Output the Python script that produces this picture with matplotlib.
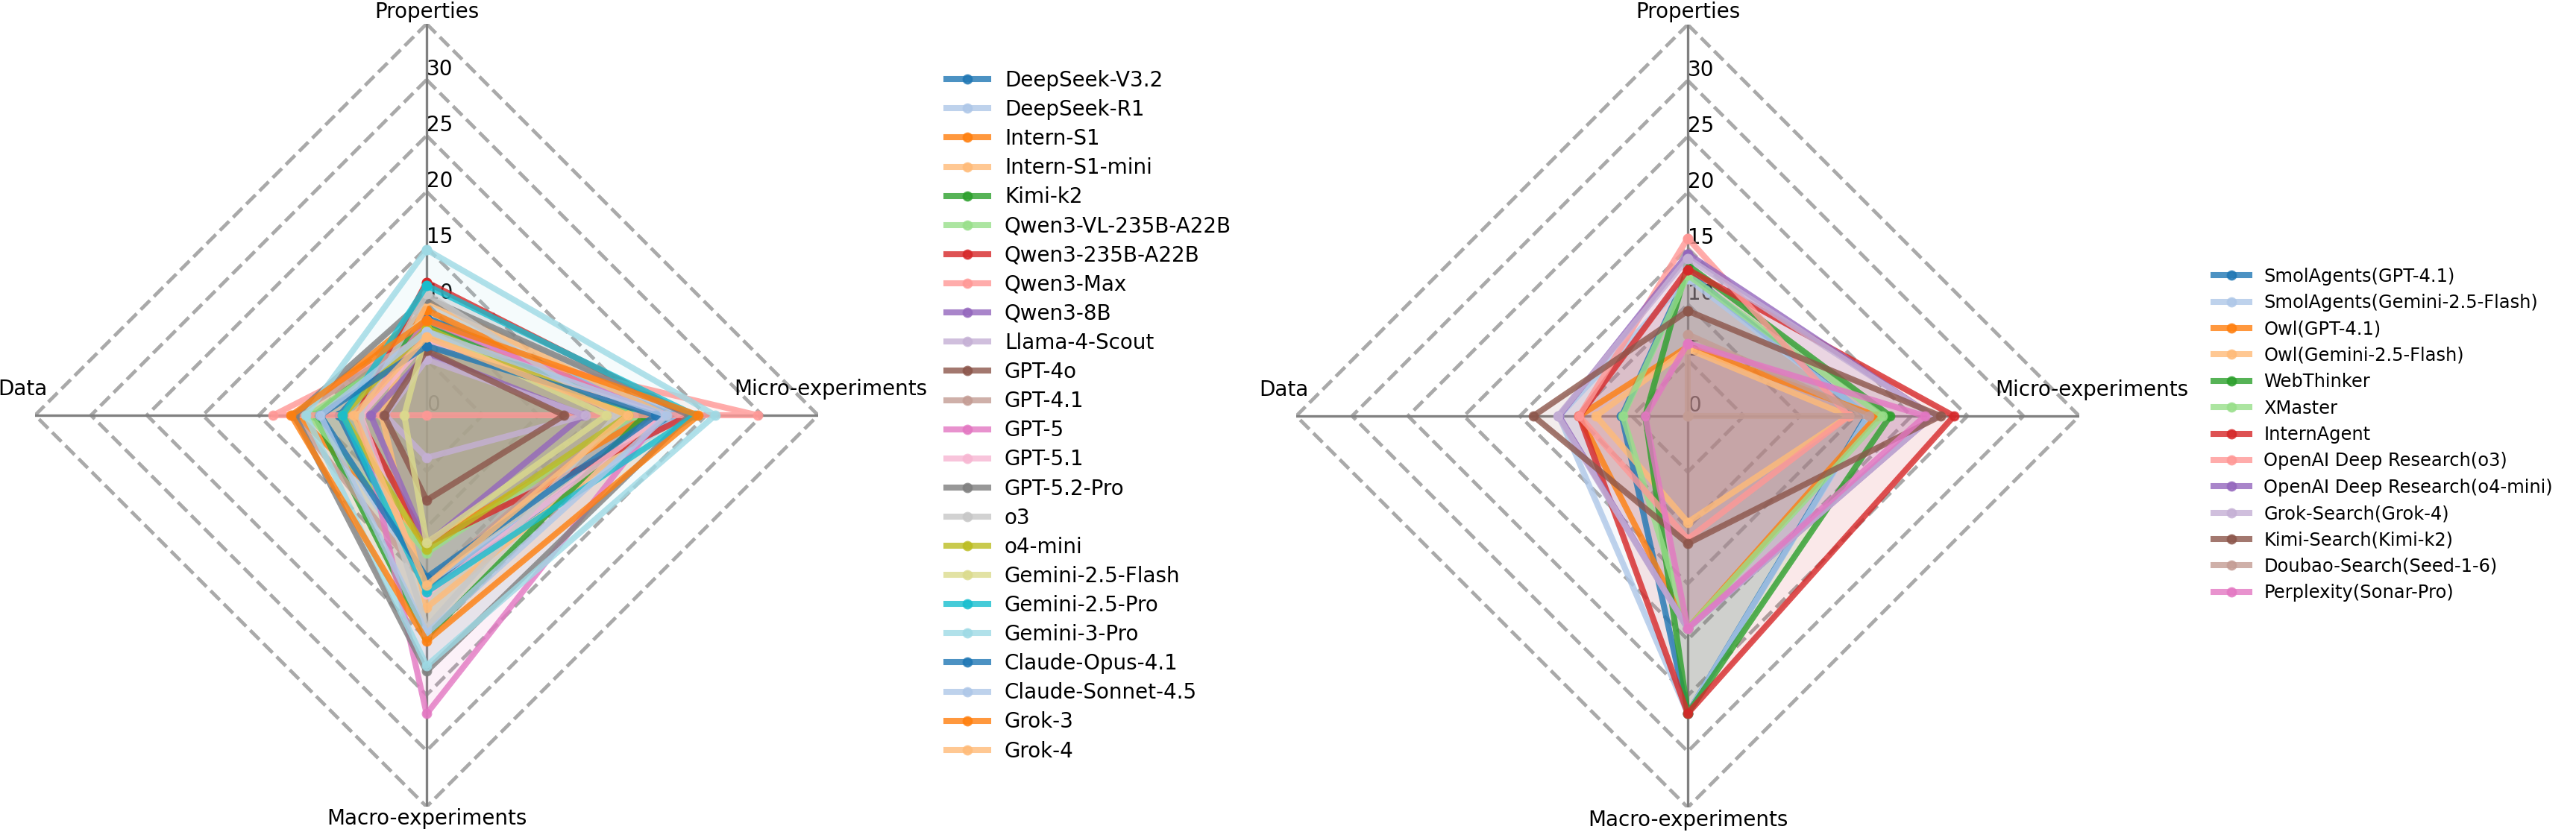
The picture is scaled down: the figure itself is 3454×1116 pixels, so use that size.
import numpy as np
import matplotlib.pyplot as plt

# axes of the radar, clockwise from the top
categories = ['Properties', 'Micro-experiments', 'Macro-experiments', 'Data']

# --- left panel: base models ---
llm_names = ['DeepSeek-V3.2', 'DeepSeek-R1', 'Intern-S1', 'Intern-S1-mini', 'Kimi-k2',
             'Qwen3-VL-235B-A22B', 'Qwen3-235B-A22B', 'Qwen3-Max', 'Qwen3-8B',
             'Llama-4-Scout', 'GPT-4o', 'GPT-4.1', 'GPT-5', 'GPT-5.1', 'GPT-5.2-Pro',
             'o3', 'o4-mini', 'Gemini-2.5-Flash', 'Gemini-2.5-Pro', 'Gemini-3-Pro',
             'Claude-Opus-4.1', 'Claude-Sonnet-4.5', 'Grok-3', 'Grok-4']
llm_properties = [8.7, 8.0, 9.4, 10.3, 8.0, 7.0, 11.9, 7.0, 5.5, 5.0, 5.8, 7.2,
                  8.5, 6.7, 10.5, 10.9, 7.8, 7.5, 11.6, 14.8, 6.2, 7.5, 8.5, 7.0]
llm_micro = [22.0, 22.8, 19.9, 21.4, 19.5, 18.5, 23.5, 29.6, 14.0, 14.2, 12.3, 17.5,
             21.0, 21.0, 23.5, 17.0, 18.0, 16.1, 24.0, 25.8, 20.5, 21.5, 24.3, 18.0]
llm_macro = [15.5, 15.0, 11.4, 17.2, 19.8, 12.3, 11.5, 0.0, 11.5, 3.8, 7.6, 15.0,
             26.7, 16.0, 22.9, 19.0, 12.0, 11.4, 15.8, 22.4, 14.5, 19.5, 20.2, 15.2]
llm_data = [7.8, 9.7, 11.6, 4.0, 10.0, 10.5, 6.2, 13.7, 5.0, 3.7, 3.8, 12.0,
            6.0, 5.9, 11.8, 6.0, 7.5, 2.0, 7.5, 10.8, 9.5, 9.5, 12.1, 6.5]

# --- right panel: agent systems ---
agent_names = ['SmolAgents(GPT-4.1)', 'SmolAgents(Gemini-2.5-Flash)', 'Owl(GPT-4.1)',
               'Owl(Gemini-2.5-Flash)', 'WebThinker', 'XMaster', 'InternAgent',
               'OpenAI Deep Research(o3)', 'OpenAI Deep Research(o4-mini)',
               'Grok-Search(Grok-4)', 'Kimi-Search(Kimi-k2)', 'Doubao-Search(Seed-1-6)',
               'Perplexity(Sonar-Pro)']
agent_properties = [12.8, 12.3, 6.2, 6.0, 13.5, 12.6, 13.1, 15.9, 14.5, 14.1, 9.4, 7.3, 6.5]
agent_micro = [16.0, 16.1, 16.9, 14.4, 18.1, 17.4, 23.8, 14.4, 21.9, 21.9, 22.6, 16.2, 21.2]
agent_macro = [26.6, 26.6, 19.0, 9.5, 26.6, 19.0, 26.6, 11.0, 19.0, 19.0, 11.4, 0.0, 19.0]
agent_data = [5.9, 11.5, 9.7, 8.2, 3.8, 5.8, 9.7, 9.7, 11.5, 11.6, 13.8, 0.0, 3.8]

r_ticks = [0, 5, 10, 15, 20, 25, 30]
r_max = 35

plt.rcParams['font.size'] = 10
W, H, DPI = 3455, 1116, 200
fig = plt.figure(figsize=(W / DPI, H / DPI), dpi=DPI)

angles = np.linspace(0, 2 * np.pi, len(categories), endpoint=False)
closed = np.append(angles, angles[0])
colors = plt.cm.tab20.colors


def radar(ax, names, cols):
    ax.set_theta_offset(np.pi / 2)
    ax.set_theta_direction(-1)
    ax.set_ylim(0, r_max)
    ax.set_xticks([])
    ax.set_yticks([])
    ax.grid(False)
    ax.spines['polar'].set_visible(False)

    # dashed diamond grid + solid spokes
    for r in range(5, r_max + 1, 5):
        ax.plot(closed, [r] * len(closed), ls='--', color='darkgray', lw=1.7, zorder=0.6)
    for a in angles:
        ax.plot([a, a], [0, r_max], color='gray', lw=1.2, zorder=0.7)
    for r in r_ticks:
        ax.text(0, r, str(r), ha='left', va='bottom', zorder=0.8)

    for i, name in enumerate(names):
        vals = [c[i] for c in cols]
        v = np.append(vals, vals[0])
        c = colors[i % 20]
        ax.plot(closed, v, color=c, lw=2.9, marker='o', ms=4, alpha=0.8,
                label=name, zorder=2)
        ax.fill(closed, v, color=c, alpha=0.1, zorder=1)

    # axis names
    offs = [0, 35, 0, 35]
    for a, lab, dy in zip(angles, categories, offs):
        ax.annotate(lab, xy=(a, 36.1), xytext=(0, dy), textcoords='offset pixels',
                    ha='center', va='center', annotation_clip=False)


rad = r_max * 15  # pixels
ax1 = fig.add_axes([(572 - rad) / W, (H - 557 - rad) / H, 2 * rad / W, 2 * rad / H],
                   projection='polar')
radar(ax1, llm_names, [llm_properties, llm_micro, llm_macro, llm_data])
ax1.legend(loc='upper left', bbox_to_anchor=(1244 / W, 1 - 69 / H),
           bbox_transform=fig.transFigure, frameon=False, labelspacing=0.40,
           handlelength=2.0)

ax2 = fig.add_axes([(2263 - rad) / W, (H - 558 - rad) / H, 2 * rad / W, 2 * rad / H],
                   projection='polar')
radar(ax2, agent_names, [agent_properties, agent_micro, agent_macro, agent_data])
ax2.legend(loc='center left', bbox_to_anchor=(2946 / W, 1 - 583 / H),
           bbox_transform=fig.transFigure, frameon=False, labelspacing=0.47,
           handlelength=2.0, fontsize=8.7)

fig.savefig('out.png', dpi=DPI)
